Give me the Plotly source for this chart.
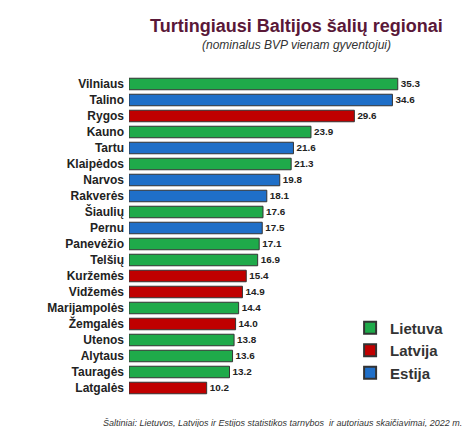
import plotly.graph_objects as go

regions = ["Vilniaus", "Talino", "Rygos", "Kauno", "Tartu", "Klaipėdos", "Narvos",
           "Rakverės", "Šiaulių", "Pernu", "Panevėžio", "Telšių", "Kuržemės",
           "Vidžemės", "Marijampolės", "Žemgalės", "Utenos", "Alytaus", "Tauragės", "Latgalės"]
values = [35.3, 34.6, 29.6, 23.9, 21.6, 21.3, 19.8, 18.1, 17.6, 17.5, 17.1, 16.9,
          15.4, 14.9, 14.4, 14.0, 13.8, 13.6, 13.2, 10.2]
country = ["Lietuva", "Estija", "Latvija", "Lietuva", "Estija", "Lietuva", "Estija",
           "Estija", "Lietuva", "Estija", "Lietuva", "Lietuva", "Latvija",
           "Latvija", "Lietuva", "Latvija", "Lietuva", "Lietuva", "Lietuva", "Latvija"]
colors = {"Lietuva": "#1faa4a", "Latvija": "#c00000", "Estija": "#1f6fc8"}

fig = go.Figure()
for c in ["Lietuva", "Latvija", "Estija"]:
    ys = [r for r, k in zip(regions, country) if k == c]
    xs = [v for v, k in zip(values, country) if k == c]
    fig.add_trace(go.Bar(
        y=ys, x=xs, name=f"<b>{c}</b>", orientation="h",
        marker=dict(color=colors[c], line=dict(color="#333333", width=1)),
        text=[f"<b>{v:.1f}</b>" for v in xs], textposition="outside",
        textfont=dict(size=12, color="#222222"),
        cliponaxis=False, width=0.72,
    ))

fig.update_layout(
    width=474, height=427, plot_bgcolor="white", paper_bgcolor="white",
    margin=dict(l=121, r=18, t=68, b=39),
    font=dict(family="Liberation Sans, Arial"),
    xaxis=dict(visible=False, range=[0, 44]),
    yaxis=dict(categoryorder="array", categoryarray=regions[::-1],
               tickprefix="<b>", ticksuffix="</b>",
               tickfont=dict(size=12, color="#222222"),
               ticks="", showline=False, showgrid=False, ticklabelstandoff=4),
    bargap=0.28, barmode="overlay",
    legend=dict(x=0.66, y=0.02, xanchor="left", yanchor="bottom",
                font=dict(size=15, color="#333333"),
                itemsizing="constant", tracegroupgap=12, bgcolor="rgba(0,0,0,0)"),
    annotations=[
        dict(text="<b>Turtingiausi Baltijos šalių regionai</b>", x=0.5, y=410,
             xref="paper", yref="paper", showarrow=False,
             font=dict(size=18, color="#5a1838")),
        dict(text="<i>(nominalus BVP vienam gyventojui)</i>", x=0.5, y=1.0, yshift=40,
             xref="paper", yref="paper", showarrow=False, font=dict(size=12, color="#333333")),
        dict(text="<i>Šaltiniai: Lietuvos, Latvijos ir Estijos statistikos tarnybos  ir autoriaus skaičiavimai, 2022 m.</i>",
             x=1, y=0, xref="paper", yref="paper", xanchor="right", yanchor="top",
             yshift=-20, showarrow=False, font=dict(size=9, color="#333333")),
    ],
)
fig.layout.annotations[0].update(y=1.0, yshift=62)
fig.write_html("out.html")
